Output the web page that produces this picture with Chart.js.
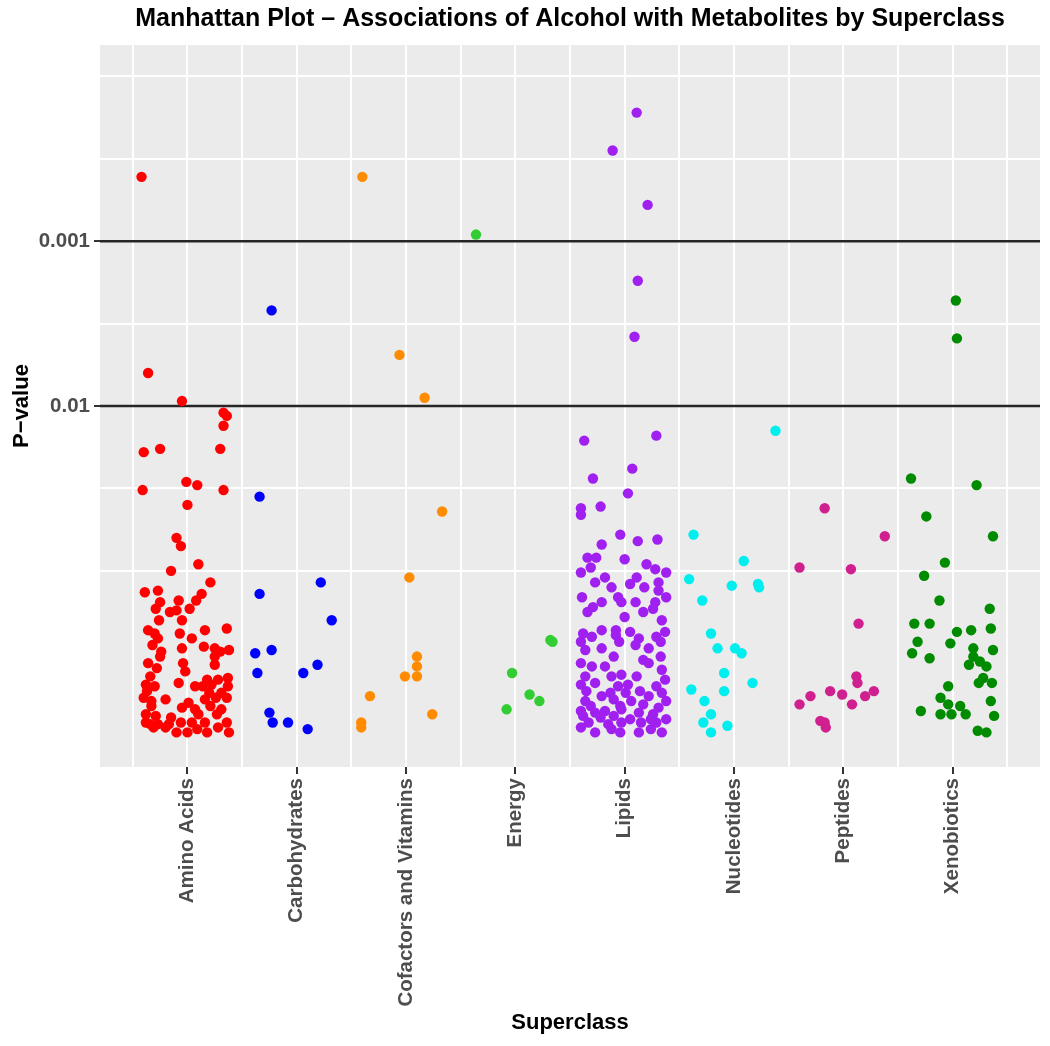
<!DOCTYPE html>
<html>
<head>
<meta charset="utf-8">
<title>Manhattan Plot</title>
<script src="https://cdn.jsdelivr.net/npm/chart.js@4.4.0/dist/chart.umd.min.js"></script>
<style>
  html, body { margin: 0; padding: 0; background: #ffffff; }
  #wrap { width: 1050px; height: 1046px; }
</style>
</head>
<body>
<div id="wrap"><canvas id="manhattan-chart" width="1050" height="1046"></canvas></div>
<script>
// Manhattan plot: -log10(p) per metabolite, jittered inside its superclass
const superclasses = ['Amino Acids', 'Carbohydrates', 'Cofactors and Vitamins', 'Energy',
  'Lipids', 'Nucleotides', 'Peptides', 'Xenobiotics'];
const classColors = ['#FF0000', '#0000FF', '#FF8C00', '#32CD32', '#A020F0', '#00EEEE', '#D02090', '#008B00'];

const thresholdP = [0.01, 0.001];
const yTickVals = [1, 1.5, 2, 2.5, 3, 3.5, 4];
const yTickLabels = ['', '', '0.01', '', '0.001', '', ''];
const xGridVals = [0.5, 1, 1.5, 2, 2.5, 3, 3.5, 4, 4.5, 5, 5.5, 6, 6.5, 7, 7.5, 8, 8.5];

// jitter = horizontal offset inside the category, logP = -log10(p)
const aminoJitter = [-0.42,-0.36,-0.05,0.33,0.36,0.33,-0.40,-0.25,0.30,-0.01,
  0.09,-0.41,0.33,0.00,-0.10,-0.06,0.10,-0.15,0.21,-0.39,
  -0.27,-0.08,0.13,0.08,-0.25,-0.29,-0.16,-0.10,0.02,-0.26,
  -0.05,-0.36,-0.30,-0.07,0.16,0.36,-0.27,0.04,-0.32,0.15,
  -0.24,-0.05,0.25,0.38,0.30,-0.25,0.25,-0.36,-0.04,0.25,
  -0.28,-0.02,-0.34,-0.08,0.18,0.28,0.37,-0.38,-0.30,0.07,
  0.14,0.22,0.37,-0.37,0.20,0.31,-0.40,-0.20,-0.33,0.16,
  0.36,0.26,0.01,-0.05,0.07,0.21,0.31,-0.33,-0.38,-0.29,
  -0.15,0.10,0.27,-0.38,-0.27,-0.06,0.04,0.16,0.36,-0.31,
  -0.20,-0.10,0.00,0.09,0.18,0.28,0.38,-0.34,-0.17];
const aminoLogP = [3.39,2.20,2.03,1.96,1.94,1.88,1.72,1.74,1.74,1.54,
  1.52,1.49,1.49,1.40,1.20,1.15,1.04,1.00,0.93,0.87,
  0.88,0.82,0.86,0.82,0.81,0.77,0.75,0.76,0.77,0.70,
  0.70,0.64,0.62,0.62,0.64,0.65,0.59,0.59,0.55,0.54,
  0.51,0.53,0.53,0.52,0.51,0.48,0.48,0.44,0.44,0.43,
  0.41,0.39,0.36,0.32,0.34,0.34,0.35,0.31,0.30,0.30,
  0.30,0.31,0.30,0.27,0.26,0.26,0.23,0.22,0.21,0.22,
  0.23,0.23,0.20,0.17,0.16,0.18,0.16,0.18,0.13,0.12,
  0.11,0.13,0.13,0.08,0.07,0.08,0.08,0.08,0.08,0.05,
  0.05,0.02,0.02,0.04,0.02,0.05,0.02,0.07,0.07];

const carbJitter = [-0.23,-0.34,0.22,-0.34,0.32,-0.38,-0.23,0.19,-0.36,0.06,-0.25,-0.22,-0.08,0.10];
const carbLogP = [2.58,1.45,0.93,0.86,0.70,0.50,0.52,0.43,0.38,0.38,0.14,0.08,0.08,0.04];

const cofJitter = [-0.40,-0.06,0.17,0.33,0.03,0.10,0.10,-0.01,0.10,-0.33,-0.41,-0.41,0.24];
const cofLogP = [3.39,2.31,2.05,1.36,0.96,0.48,0.42,0.36,0.36,0.24,0.08,0.05,0.13];

const energyJitter = [-0.36,0.32,0.34,-0.03,0.13,0.22,-0.08];
const energyLogP = [3.04,0.58,0.57,0.38,0.25,0.21,0.16];

const lipidJitter = [0.11,-0.11,0.21,0.12,0.09,-0.37,0.29,0.07,-0.29,0.03,
  -0.40,-0.40,-0.22,-0.04,0.12,0.30,-0.21,-0.34,-0.26,0.00,
  -0.31,0.20,-0.40,-0.27,-0.18,0.28,0.38,-0.12,0.05,0.18,
  0.11,0.31,0.31,-0.39,-0.06,-0.03,0.38,-0.21,-0.29,0.10,
  0.28,0.26,-0.34,0.17,0.00,0.34,-0.21,-0.08,0.05,0.37,
  -0.38,-0.30,-0.08,0.13,0.29,-0.40,-0.21,-0.05,0.10,0.33,
  -0.36,0.22,-0.40,-0.10,0.33,0.17,-0.30,-0.18,0.22,0.34,
  -0.36,-0.12,-0.03,0.11,0.37,-0.40,-0.27,-0.06,0.03,0.29,
  -0.35,-0.13,0.01,0.14,0.34,-0.21,0.22,-0.36,-0.10,0.06,
  0.38,-0.31,-0.04,0.17,0.31,-0.40,-0.27,-0.18,-0.03,0.13,
  0.26,-0.38,-0.22,-0.10,0.05,0.24,0.38,-0.33,-0.15,-0.03,
  0.15,0.29,-0.40,-0.27,-0.12,-0.04,0.13,0.24,0.34];
const lipidLogP = [3.78,3.55,3.22,2.76,2.42,1.79,1.82,1.62,1.56,1.47,
  1.38,1.34,1.39,1.22,1.18,1.19,1.16,1.08,1.08,1.07,
  1.02,1.04,0.99,0.93,0.96,1.01,0.99,0.90,0.92,0.90,
  0.96,0.93,0.88,0.84,0.84,0.81,0.84,0.81,0.78,0.81,
  0.81,0.77,0.75,0.75,0.72,0.70,0.64,0.64,0.63,0.63,
  0.62,0.60,0.61,0.59,0.60,0.57,0.53,0.57,0.55,0.57,
  0.52,0.53,0.44,0.48,0.48,0.46,0.42,0.42,0.44,0.40,
  0.36,0.36,0.37,0.36,0.34,0.31,0.32,0.30,0.31,0.30,
  0.27,0.26,0.26,0.27,0.26,0.24,0.24,0.21,0.22,0.21,
  0.21,0.18,0.18,0.19,0.17,0.15,0.14,0.15,0.16,0.14,
  0.13,0.12,0.11,0.12,0.10,0.10,0.10,0.08,0.07,0.08,
  0.08,0.08,0.05,0.02,0.04,0.02,0.02,0.04,0.02];

const nucJitter = [0.38,-0.37,0.09,-0.41,-0.02,0.22,0.23,-0.29,-0.21,-0.15,0.01,
  0.07,-0.09,0.17,-0.39,-0.09,-0.27,-0.21,-0.28,-0.06,-0.21];
const nucLogP = [1.85,1.22,1.06,0.95,0.91,0.92,0.90,0.82,0.62,0.53,0.53,
  0.50,0.38,0.32,0.28,0.27,0.21,0.13,0.08,0.06,0.02];

const pepJitter = [-0.17,0.38,-0.40,0.07,0.14,0.12,0.13,-0.12,-0.30,-0.01,0.20,0.28,-0.40,0.08,-0.21,-0.17,-0.16];
const pepLogP = [1.38,1.21,1.02,1.01,0.68,0.36,0.32,0.27,0.24,0.25,0.24,0.27,0.19,0.19,0.09,0.08,0.05];

const xenoJitter = [0.03,0.04,-0.38,0.22,-0.24,0.37,-0.07,-0.26,-0.12,0.34,
  -0.35,-0.21,0.04,0.17,0.35,-0.32,-0.02,0.19,0.37,-0.37,
  -0.21,0.19,0.25,0.15,0.31,0.28,0.24,0.36,-0.04,0.35,
  -0.11,-0.04,0.07,-0.29,-0.11,-0.01,0.12,0.38,0.23,0.31];
const xenoLogP = [2.64,2.41,1.56,1.52,1.33,1.21,1.05,0.97,0.82,0.77,
  0.68,0.68,0.63,0.64,0.65,0.57,0.56,0.53,0.52,0.50,
  0.47,0.48,0.45,0.43,0.42,0.35,0.32,0.32,0.30,0.21,
  0.23,0.19,0.18,0.15,0.13,0.13,0.13,0.12,0.03,0.02];

const jitterSets = [aminoJitter, carbJitter, cofJitter, energyJitter, lipidJitter, nucJitter, pepJitter, xenoJitter];
const logPSets = [aminoLogP, carbLogP, cofLogP, energyLogP, lipidLogP, nucLogP, pepLogP, xenoLogP];

const X_MIN = 0.2, X_MAX = 8.8;
const Y_MIN = -0.19, Y_MAX = 4.19;

const titleFont = "'Liberation Sans', Arial, sans-serif";
const axisFont = "'Liberation Sans', Arial, sans-serif";

const pointSets = superclasses.map((name, i) => ({
  label: name,
  data: jitterSets[i].map((j, k) => ({ x: i + 1 + j, y: logPSets[i][k] })),
  backgroundColor: classColors[i],
  borderWidth: 0,
  pointRadius: 5.2,
  pointHoverRadius: 5.2,
  order: 1
}));

const thresholdSets = thresholdP.map(p => ({
  label: 'p = ' + p,
  data: [{ x: X_MIN, y: -Math.log10(p) }, { x: X_MAX, y: -Math.log10(p) }],
  showLine: true,
  borderColor: '#262626',
  borderWidth: 2.5,
  pointRadius: 0,
  order: 2
}));

const panelBackground = {
  id: 'panelBackground',
  beforeDraw(chart) {
    const { ctx, chartArea } = chart;
    ctx.save();
    ctx.fillStyle = '#EBEBEB';
    ctx.fillRect(chartArea.left, chartArea.top, chartArea.width, chartArea.height);
    ctx.restore();
  }
};

const isInt = v => Math.abs(v - Math.round(v)) < 1e-9;

const ctx = document.getElementById('manhattan-chart').getContext('2d');
new Chart(ctx, {
  type: 'scatter',
  data: { datasets: pointSets.concat(thresholdSets) },
  plugins: [panelBackground],
  options: {
    responsive: false,
    animation: false,
    layout: { padding: { left: 0, right: 10, top: 0, bottom: 0 } },
    plugins: {
      legend: { display: false },
      tooltip: { enabled: false },
      title: {
        display: true,
        fullSize: false,
        text: 'Manhattan Plot \u2013 Associations of Alcohol with Metabolites by Superclass',
        color: '#000000',
        font: { family: titleFont, size: 25, weight: 'bold' },
        padding: { top: 4, bottom: 11 }
      }
    },
    scales: {
      x: {
        type: 'linear',
        min: X_MIN,
        max: X_MAX,
        afterBuildTicks: axis => { axis.ticks = xGridVals.map(v => ({ value: v })); },
        afterFit: axis => { axis.height = 279; },
        border: { display: false },
        grid: {
          color: '#FFFFFF',
          lineWidth: 2,
          tickLength: 7,
          tickWidth: 2,
          tickColor: c => (c.tick && isInt(c.tick.value)) ? '#333333' : 'rgba(0,0,0,0)'
        },
        ticks: {
          autoSkip: false,
          minRotation: 90,
          maxRotation: 90,
          padding: 4,
          color: '#4D4D4D',
          font: { family: axisFont, size: 20.5, weight: 'bold' },
          callback: v => isInt(v) ? superclasses[Math.round(v) - 1] : ''
        },
        title: {
          display: true,
          text: 'Superclass',
          color: '#000000',
          font: { family: titleFont, size: 22, weight: 'bold' },
          padding: { top: 0, bottom: 10 }
        }
      },
      y: {
        type: 'linear',
        min: Y_MIN,
        max: Y_MAX,
        afterBuildTicks: axis => { axis.ticks = yTickVals.map(v => ({ value: v })); },
        afterFit: axis => { axis.width = 100; },
        border: { display: false },
        grid: {
          color: '#FFFFFF',
          lineWidth: 2,
          tickLength: 6,
          tickWidth: 2,
          tickColor: c => (c.tick && yTickLabels[yTickVals.indexOf(c.tick.value)]) ? '#333333' : 'rgba(0,0,0,0)'
        },
        ticks: {
          padding: 4,
          color: '#4D4D4D',
          font: { family: axisFont, size: 20.5, weight: 'bold' },
          callback: v => yTickLabels[yTickVals.indexOf(v)] || ''
        },
        title: {
          display: true,
          text: 'P\u2212value',
          color: '#000000',
          font: { family: titleFont, size: 22, weight: 'bold' },
          padding: { top: 9, bottom: 0 }
        }
      }
    }
  }
});
</script>
</body>
</html>
